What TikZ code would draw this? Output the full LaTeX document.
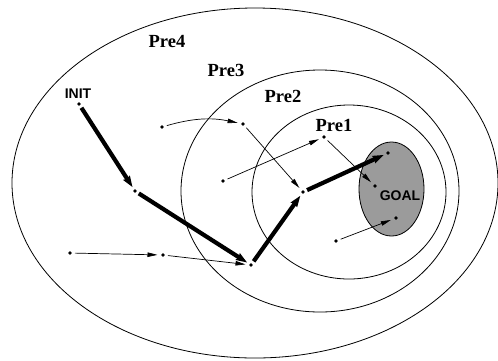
\documentclass[tikz,border=0pt]{standalone}
\usepackage{fontspec}
\setmainfont{Liberation Serif}
\newfontfamily\labelsans{Liberation Sans}
\usetikzlibrary{arrows.meta}
\definecolor{goalgray}{RGB}{155,155,155}
\tikzset{
  region/.style={draw, line width=0.8pt},
  pt/.style={circle, fill=black, inner sep=0pt, minimum size=3.6pt},
  prelabel/.style={font=\bfseries\fontsize{18.5}{18.5}\selectfont, inner sep=0pt},
  statelabel/.style={font=\labelsans\bfseries\fontsize{14}{14}\selectfont, inner sep=0pt},
  plan/.style={line width=4.2pt, -{Stealth[length=11pt,width=7.5pt,inset=1pt]},
               shorten <=2.5pt, shorten >=2.5pt},
  move/.style={line width=0.7pt, -{Stealth[length=10pt,width=4.5pt,inset=0pt]},
               shorten <=3pt, shorten >=3.5pt}
}
\begin{document}
\begin{tikzpicture}[x=1pt,y=-1pt]
\useasboundingbox (0,0) rectangle (498,360);

% nested precondition regions
\draw[region] (255,183) ellipse [x radius=243pt, y radius=175pt];
\draw[region] (320,191) ellipse [x radius=139pt, y radius=121pt];
\draw[region] (349,192) ellipse [x radius=97pt, y radius=87pt];
\draw[region, fill=goalgray] (391.5,189) ellipse [x radius=32.5pt, y radius=47pt];

% region labels
\node[prelabel] (l4) at (167,41) {Pre4};
\node[prelabel] (l3) at (226,70) {Pre3};
\node[prelabel] (l2) at (283,96) {Pre2};
\node[prelabel] (l1) at (334,125) {Pre1};
\node[statelabel] (linit) at (78,94) {INIT};
\node[statelabel] (lgoal) at (400,196) {GOAL};

% states
\node[pt] (init) at (79,104) {};
\node[pt] (a) at (135,191) {};
\node[pt] (b) at (251,265) {};
\node[pt] (c) at (303,192) {};
\node[pt] (d) at (388,153) {};
\node[pt] (e) at (324,137) {};
\node[pt] (f) at (375,186) {};
\node[pt] (g) at (396,218) {};
\node[pt] (h) at (336,241) {};
\node[pt] (i) at (223,181) {};
\node[pt] (j) at (243,124) {};
\node[pt] (k) at (162,127) {};
\node[pt] (l) at (70,253) {};
\node[pt] (m) at (163,255) {};

% other transitions
\draw[move] (k) to[bend left=14] (j);
\draw[move] (j) -- (c);
\draw[move] (i) -- (e);
\draw[move] (e) -- (f);
\draw[move] (h) -- (g);
\draw[move] (l) -- (m);
\draw[move] (m) -- (b);

% the plan from INIT to GOAL
\draw[plan] (init) -- (a);
\draw[plan] (a) -- (b);
\draw[plan] (b) -- (c);
\draw[plan] (c) -- (d);
\end{tikzpicture}
\end{document}
